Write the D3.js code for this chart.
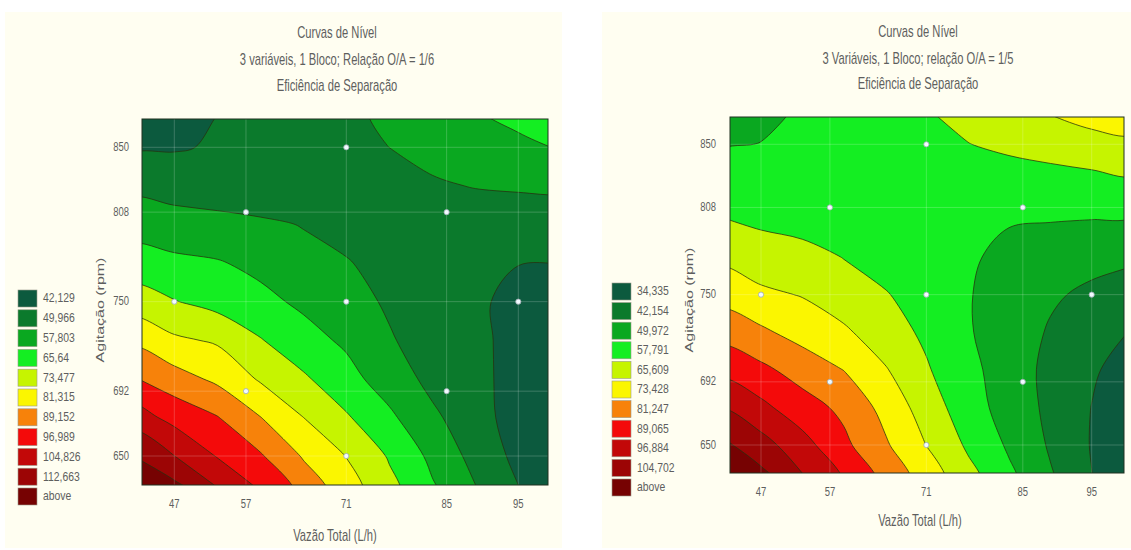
<!DOCTYPE html>
<html><head><meta charset="utf-8">
<script src="https://cdn.jsdelivr.net/npm/d3@7"></script>
<style>body{margin:0;background:#fff}svg{display:block}</style>
</head><body>
<svg id="chart" width="1131" height="550"></svg>
<script>
// ---------- data ----------
const gridX = [41, 47, 53, 59, 65, 71, 77, 83, 89, 95, 101];          // Vazão Total (L/h)
const gridY = [625, 650, 675, 700, 725, 750, 775, 800, 825, 850, 875]; // Agitação (rpm)

// Eficiência de Separação, O/A = 1/6 (rows follow gridY, columns follow gridX)
const effLeft = [
  [126.0, 117.3, 106.7, 97.6, 87.2, 77.3, 68.3, 59.2, 50.9, 42.8, 35.2],
  [113.0, 104.9, 96.5, 90.0, 80.6, 73.3, 64.9, 56.0, 47.4, 40.1, 33.7],
  [101.0, 94.5, 89.5, 81.5, 73.5, 66.5, 59.3, 51.4, 45.5, 38.4, 33.2],
  [90.0, 84.6, 79.7, 72.6, 66.8, 60.5, 54.0, 47.9, 44.5, 39.0, 33.8],
  [79.5, 74.8, 72.5, 66.1, 60.6, 56.5, 50.7, 46.3, 44.0, 39.5, 35.3],
  [69.6, 66.0, 62.9, 59.8, 56.4, 53.0, 48.9, 43.8, 43.5, 39.8, 37.9],
  [61.2, 59.5, 58.4, 55.9, 51.8, 50.5, 47.2, 43.7, 42.8, 42.3, 42.2],
  [54.5, 53.2, 52.3, 51.1, 49.7, 47.2, 45.0, 44.8, 45.5, 45.8, 46.2],
  [48.0, 46.7, 45.8, 45.2, 45.1, 45.3, 46.3, 49.0, 50.3, 50.8, 51.0],
  [41.0, 41.5, 42.8, 43.5, 44.5, 47.0, 50.0, 52.5, 54.0, 55.3, 58.6],
  [37.5, 39.3, 42.0, 42.7, 44.9, 48.5, 51.5, 54.5, 57.2, 61.8, 66.3]
];
// Eficiência de Separação, O/A = 1/5
const effRight = [
  [118.3, 108.3, 98.5, 88.8, 79.4, 70.1, 60.9, 52.0, 43.2, 34.6, 26.1],
  [106.9, 100.0, 92.0, 83.0, 74.5, 65.5, 56.7, 48.9, 41.3, 33.9, 26.7],
  [96.5, 91.0, 84.5, 79.5, 71.0, 62.0, 53.4, 46.8, 40.4, 34.2, 28.1],
  [86.9, 83.0, 78.0, 73.3, 66.3, 58.5, 52.5, 45.6, 40.4, 35.4, 30.5],
  [78.3, 74.8, 70.5, 67.0, 61.0, 56.5, 50.6, 46.3, 41.4, 37.5, 33.9],
  [70.6, 67.2, 65.2, 61.0, 58.3, 54.5, 50.4, 47.0, 43.2, 40.6, 38.1],
  [63.9, 61.1, 60.3, 57.6, 54.8, 51.4, 50.6, 48.8, 46.1, 44.6, 43.4],
  [58.1, 56.5, 55.0, 53.7, 52.6, 51.6, 50.9, 50.3, 50.3, 50.0, 49.6],
  [53.3, 52.8, 52.5, 52.4, 52.5, 52.7, 53.2, 53.8, 54.5, 55.5, 56.6],
  [49.4, 50.1, 51.0, 52.1, 53.4, 54.8, 57.6, 59.5, 61.2, 62.6, 63.8],
  [46.4, 48.3, 50.4, 52.7, 55.2, 57.8, 60.6, 63.6, 66.8, 70.1, 71.0]
];

const levelsLeft  = [42.129, 49.966, 57.803, 65.64, 73.477, 81.315, 89.152, 96.989, 104.826, 112.663];
const levelsRight = [34.335, 42.154, 49.972, 57.791, 65.609, 73.428, 81.247, 89.065, 96.884, 104.702];
const legendLeft  = ["42,129", "49,966", "57,803", "65,64", "73,477", "81,315", "89,152", "96,989", "104,826", "112,663", "above"];
const legendRight = ["34,335", "42,154", "49,972", "57,791", "65,609", "73,428", "81,247", "89,065", "96,884", "104,702", "above"];
const bandColors  = ["#0c5a3e", "#0b7a2c", "#0aa820", "#14ee22", "#c6f400", "#fbf600", "#f7820a", "#f40a0a", "#c20808", "#9c0505", "#760202"];

const vazaoTicks    = [47, 57, 71, 85, 95];
const agitacaoTicks = [650, 692, 750, 808, 850];
const designVazao    = [47, 57, 57, 71, 71, 71, 85, 85, 95];
const designAgitacao = [750, 808, 692, 850, 750, 650, 808, 692, 750];

const titlesLeft  = ["Curvas de Nível", "3 variáveis, 1 Bloco; Relação O/A = 1/6", "Eficiência de Separação"];
const titlesRight = ["Curvas de Nível", "3 Variáveis, 1 Bloco; relação O/A = 1/5", "Eficiência de Separação"];
const xTitle = "Vazão Total (L/h)";
const yTitle = "Agitação (rpm)";

// ---------- layout ----------
const svg = d3.select("#chart");
svg.append("rect").attr("x", 0).attr("y", 0).attr("width", 1131).attr("height", 550).attr("fill", "#ffffff");

const FONT = "'Liberation Sans', Arial, sans-serif";
const TXT = "#5e5e5e";

function hText(g, x, y, s, size, anchor, sq) {
  g.append("text")
    .attr("transform", `translate(${x},${y}) scale(${sq || 0.7},1)`)
    .attr("text-anchor", anchor || "middle")
    .attr("dominant-baseline", "middle")
    .attr("font-family", FONT).attr("font-size", size)
    .attr("fill", TXT).text(s);
}

function drawPanel(cfg, grid, levels, labels, titles, id) {
  const g = svg.append("g");
  g.append("rect").attr("x", cfg.bg[0]).attr("y", cfg.bg[1]).attr("width", cfg.bg[2]).attr("height", cfg.bg[3])
    .attr("fill", "#fffef1");

  const x = d3.scaleLinear().domain([47, 95]).range(cfg.xr);
  const y = d3.scaleLinear().domain([650, 850]).range(cfg.yr);
  const nx = gridX.length, ny = gridY.length;
  const gx = d3.scaleLinear().domain([0.5, nx - 0.5]).range([gridX[0], gridX[nx - 1]]);
  const gy = d3.scaleLinear().domain([0.5, ny - 0.5]).range([gridY[0], gridY[ny - 1]]);

  const values = grid.flat();
  const contours = d3.contours().size([nx, ny]).thresholds(levels)(values);

  svg.append("defs").append("clipPath").attr("id", id)
    .append("rect").attr("x", cfg.px[0]).attr("y", cfg.py[0])
    .attr("width", cfg.px[1] - cfg.px[0]).attr("height", cfg.py[1] - cfg.py[0]);

  const plot = g.append("g").attr("clip-path", `url(#${id})`);
  plot.append("rect").attr("x", cfg.px[0]).attr("y", cfg.py[0])
    .attr("width", cfg.px[1] - cfg.px[0]).attr("height", cfg.py[1] - cfg.py[0])
    .attr("fill", bandColors[0]);

  const line = d3.line().curve(d3.curveCatmullRomClosed.alpha(0.5))
    .x(p => x(gx(p[0]))).y(p => y(gy(p[1])));

  contours.forEach((c, i) => {
    const d = c.coordinates.map(poly => poly.map(ring => line(ring.slice(0, -1))).join("")).join("");
    if (!d) return;
    plot.append("path").attr("d", d)
      .attr("fill", bandColors[i + 1]).attr("fill-rule", "evenodd")
      .attr("stroke", "#26300e").attr("stroke-width", 0.9).attr("stroke-opacity", 0.85);
  });

  // faint grid
  plot.selectAll(".gvx").data(vazaoTicks).join("line")
    .attr("x1", d => x(d)).attr("x2", d => x(d)).attr("y1", cfg.py[0]).attr("y2", cfg.py[1])
    .attr("stroke", "#ffffff").attr("stroke-opacity", 0.2).attr("stroke-width", 1);
  plot.selectAll(".gvy").data(agitacaoTicks).join("line")
    .attr("y1", d => y(d)).attr("y2", d => y(d)).attr("x1", cfg.px[0]).attr("x2", cfg.px[1])
    .attr("stroke", "#ffffff").attr("stroke-opacity", 0.2).attr("stroke-width", 1);

  // design points
  plot.selectAll("circle").data(designVazao.map((v, i) => [v, designAgitacao[i]])).join("circle")
    .attr("cx", d => x(d[0])).attr("cy", d => y(d[1])).attr("r", 2.6)
    .attr("fill", "#f2fbff").attr("stroke", "#9aa7b0").attr("stroke-width", 0.8);

  g.append("rect").attr("x", cfg.px[0]).attr("y", cfg.py[0])
    .attr("width", cfg.px[1] - cfg.px[0]).attr("height", cfg.py[1] - cfg.py[0])
    .attr("fill", "none").attr("stroke", "#203020").attr("stroke-width", 1);

  // axes labels
  vazaoTicks.forEach(t => hText(g, x(t), cfg.xtickY, String(t), 13.5));
  agitacaoTicks.forEach(t => hText(g, cfg.ytickX, y(t), String(t), 13.5, "end"));
  hText(g, cfg.xtitle[0], cfg.xtitle[1], xTitle, 16);
  g.append("text")
    .attr("transform", `translate(${cfg.ytitle[0]},${cfg.ytitle[1]}) rotate(-90) scale(1,0.68)`)
    .attr("text-anchor", "middle").attr("dominant-baseline", "middle")
    .attr("font-family", FONT).attr("font-size", 16).attr("fill", TXT).text(yTitle);

  titles.forEach((t, i) => hText(g, cfg.titleX, cfg.titleY[i], t, 16));

  // legend
  labels.forEach((lab, i) => {
    const yy = cfg.leg[1] + i * cfg.leg[2];
    g.append("rect").attr("x", cfg.leg[0]).attr("y", yy).attr("width", 19).attr("height", 17)
      .attr("fill", bandColors[i]).attr("stroke", "#9a9a8a").attr("stroke-width", 0.6);
    hText(g, cfg.leg[0] + 25, yy + 9, lab, 13, "start", 0.8);
  });
}

const leftCfg = {
  bg: [5, 12, 557, 536],
  px: [142, 548], py: [119, 485],
  xr: [174.3, 518.3], yr: [456, 147.3],
  xtickY: 504, ytickX: 129, xtitle: [335, 537], ytitle: [101, 310],
  titleX: 337, titleY: [34, 61, 87],
  leg: [18, 290, 19.8]
};
const rightCfg = {
  bg: [602, 12, 529, 536],
  px: [730, 1124], py: [117, 473],
  xr: [761, 1091.7], yr: [445, 144.3],
  xtickY: 492, ytickX: 716, xtitle: [920, 522], ytitle: [690, 300],
  titleX: 918, titleY: [33, 60, 85],
  leg: [612, 283, 19.6]
};

drawPanel(leftCfg, effLeft, levelsLeft, legendLeft, titlesLeft, "clipL");
drawPanel(rightCfg, effRight, levelsRight, legendRight, titlesRight, "clipR");
</script>
</body></html>
